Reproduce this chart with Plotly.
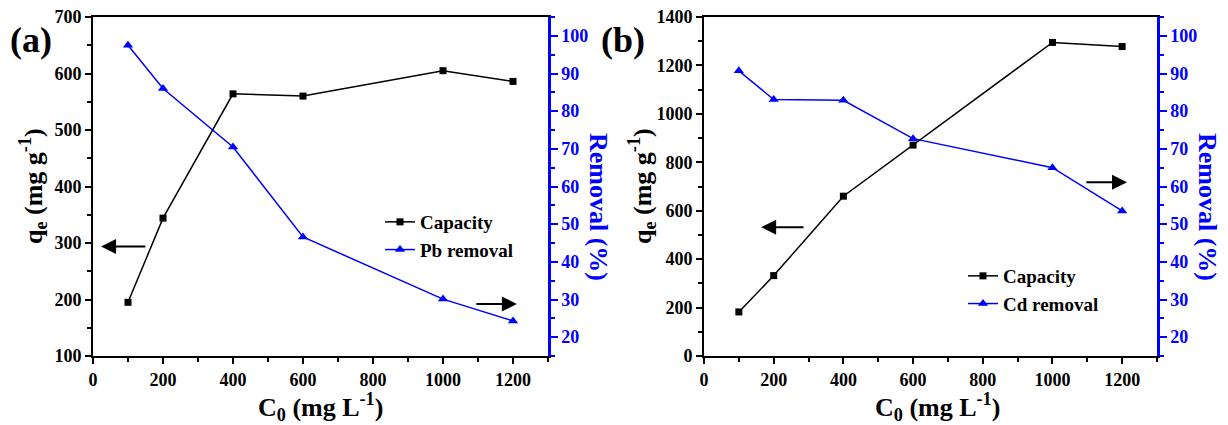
import plotly.graph_objects as go

# ---------------- data ----------------
conc = [100, 200, 400, 600, 1000, 1200]
pb_capacity = [195, 344, 564, 560, 605, 586]
pb_removal = [97.5, 86.0, 70.5, 46.6, 30.1, 24.3]
cd_capacity = [182, 332, 660, 871, 1295, 1278]
cd_removal = [90.7, 83.1, 82.9, 72.7, 65.0, 53.5]

x_ticks = [0, 200, 400, 600, 800, 1000, 1200]

W, H = 1228, 425
FONT = "Liberation Serif"
BLUE = "#0000FF"


def px(x):
    return x / W


def py(y):
    return 1 - y / H


fig = go.Figure()

# Panel (a)
fig.add_trace(go.Scatter(x=conc, y=pb_capacity, name="Capacity", mode="lines+markers",
                         line=dict(color="black", width=1.5),
                         marker=dict(symbol="square", size=7, color="black"),
                         xaxis="x", yaxis="y", legend="legend"))
fig.add_trace(go.Scatter(x=conc, y=pb_removal, name="Pb removal", mode="lines+markers",
                         line=dict(color=BLUE, width=1.5),
                         marker=dict(symbol="triangle-up", size=9, color=BLUE),
                         xaxis="x", yaxis="y2", legend="legend"))
# Panel (b)
fig.add_trace(go.Scatter(x=conc, y=cd_capacity, name="Capacity", mode="lines+markers",
                         line=dict(color="black", width=1.5),
                         marker=dict(symbol="square", size=7, color="black"),
                         xaxis="x2", yaxis="y3", legend="legend2"))
fig.add_trace(go.Scatter(x=conc, y=cd_removal, name="Cd removal", mode="lines+markers",
                         line=dict(color=BLUE, width=1.5),
                         marker=dict(symbol="triangle-up", size=9, color=BLUE),
                         xaxis="x2", yaxis="y4", legend="legend2"))

tickfont_k = dict(family=FONT, size=18, color="black", weight="bold")
tickfont_b = dict(family=FONT, size=18, color=BLUE, weight="bold")

xa = dict(range=[0, 1300], tickvals=x_ticks, ticks="outside", ticklen=6, tickwidth=2,
          tickcolor="black", showline=True, linecolor="black", linewidth=2, mirror=True,
          showgrid=False, zeroline=False, tickfont=tickfont_k, automargin=False,
          minor=dict(dtick=100, tick0=0, ticks="outside", ticklen=4, tickwidth=2, tickcolor="black"))

def yleft(rng, dtick, anchor, domain):
    return dict(range=rng, dtick=dtick, tick0=0, ticks="outside", ticklen=6, tickwidth=2,
                tickcolor="black", showline=True, linecolor="black", linewidth=2,
                showgrid=False, zeroline=False, tickfont=tickfont_k, anchor=anchor,
                domain=domain, automargin=False,
                minor=dict(dtick=dtick / 2, tick0=0, ticks="outside", ticklen=4, tickwidth=2,
                           tickcolor="black"))

def yright(overlay, anchor):
    return dict(range=[15, 105], tickvals=[20, 30, 40, 50, 60, 70, 80, 90, 100], ticks="outside",
                ticklen=7, tickwidth=2, tickcolor=BLUE, showline=True, linecolor=BLUE,
                linewidth=2.5, showgrid=False, zeroline=False, tickfont=tickfont_b,
                overlaying=overlay, side="right", anchor=anchor, automargin=False,
                minor=dict(dtick=5, tick0=0, ticks="outside", ticklen=4, tickwidth=2,
                           tickcolor=BLUE))

ydom = [py(356), py(17)]

legend_font = dict(family=FONT, size=19, color="black", weight="bold")

fig.update_layout(
    width=W, height=H, autosize=False,
    margin=dict(l=0, r=0, t=0, b=0),
    paper_bgcolor="white", plot_bgcolor="white",
    font=dict(family=FONT, color="black"),
    xaxis=dict(xa, domain=[px(93), px(548)], anchor="y"),
    xaxis2=dict(xa, domain=[px(704), px(1157)], anchor="y3"),
    yaxis=yleft([100, 700], 100, "x", ydom),
    yaxis2=yright("y", "x"),
    yaxis3=yleft([0, 1400], 200, "x2", ydom),
    yaxis4=yright("y3", "x2"),
    legend=dict(x=px(380), y=py(203), xanchor="left", yanchor="top",
                bgcolor="rgba(0,0,0,0)", borderwidth=0, itemwidth=30,
                font=legend_font, tracegroupgap=0),
    legend2=dict(x=px(963), y=py(257), xanchor="left", yanchor="top",
                 bgcolor="rgba(0,0,0,0)", borderwidth=0, itemwidth=30,
                 font=legend_font, tracegroupgap=0),
    showlegend=True,
)

title_k = dict(family=FONT, size=26, color="black", weight="bold")
title_b = dict(family=FONT, size=26, color=BLUE, weight="bold")

annotations = [
    dict(text="(a)", x=px(31), y=py(40), font=dict(family=FONT, size=36, color="black", weight="bold")),
    dict(text="(b)", x=px(623), y=py(40), font=dict(family=FONT, size=36, color="black", weight="bold")),
    dict(text="q<sub>e</sub> (mg g<sup>-1</sup>)", x=px(33), y=py(186), textangle=-90, font=title_k),
    dict(text="q<sub>e</sub> (mg g<sup>-1</sup>)", x=px(642), y=py(186), textangle=-90, font=title_k),
    dict(text="Removal (%)", x=px(599), y=py(207), textangle=90, font=title_b),
    dict(text="Removal (%)", x=px(1208), y=py(207), textangle=90, font=title_b),
    dict(text="C<sub>0</sub> (mg L<sup>-1</sup>)", x=px(320), y=py(407), font=title_k),
    dict(text="C<sub>0</sub> (mg L<sup>-1</sup>)", x=px(937), y=py(407), font=title_k),
]
for a in annotations:
    a.update(xref="paper", yref="paper", xanchor="center", yanchor="middle", showarrow=False)

# direction arrows (data coordinates)
arrows = [
    dict(xref="x", yref="y", x=23, y=294, ax=154, ay=294),
    dict(xref="x", yref="y", x=1211, y=192, ax=1091, ay=192),
    dict(xref="x2", yref="y3", x=164, y=532, ax=290, ay=532),
    dict(xref="x2", yref="y3", x=1214, y=718, ax=1093, ay=718),
]
for a in arrows:
    a.update(text="", showarrow=True, axref=a["xref"], ayref=a["yref"], arrowhead=2,
             arrowsize=1.5, arrowwidth=2, arrowcolor="black")

fig.update_layout(annotations=annotations + arrows)

fig.write_html("out.html")
